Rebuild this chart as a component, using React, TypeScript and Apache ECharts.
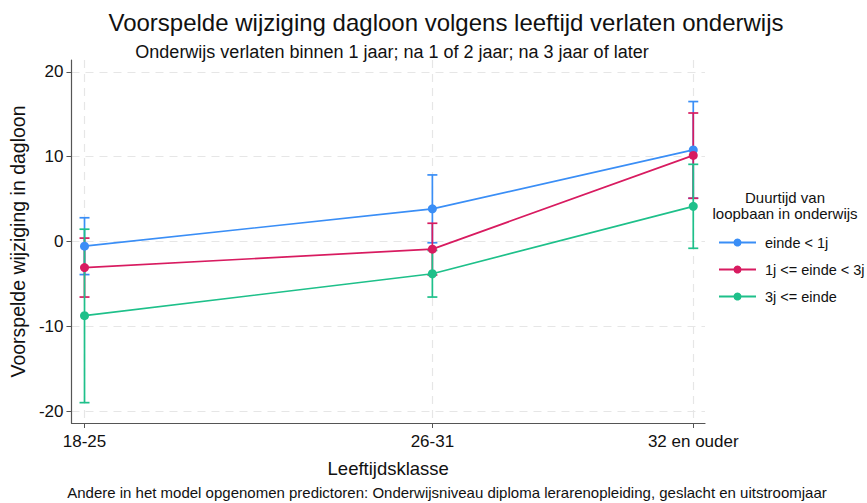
import React, { useEffect, useRef } from "react";
import * as echarts from "echarts";

const ageX = [18, 26, 32];
const ageLabels = ["18-25", "26-31", "32 en ouder"];
const yTicks = [-20, -10, 0, 10, 20];

const seriesNames = ["einde < 1j", "1j <= einde < 3j", "3j <= einde"];
const seriesColors = ["#3a8ef6", "#d81b60", "#1ec08a"];

const blueMean = [-0.55, 3.85, 10.8];
const blueLo = [-3.9, -0.15, 5.1];
const blueHi = [2.8, 7.85, 16.5];

const redMean = [-3.08, -0.9, 10.15];
const redLo = [-6.55, -3.95, 5.1];
const redHi = [0.4, 2.15, 15.15];

const greenMean = [-8.75, -3.8, 4.15];
const greenLo = [-19.0, -6.55, -0.8];
const greenHi = [1.45, -1.05, 9.1];

const means = [blueMean, redMean, greenMean];
const los = [blueLo, redLo, greenLo];
const his = [blueHi, redHi, greenHi];

const FONT = "'Liberation Sans', Arial, sans-serif";

export default function App() {
  const ref = useRef<HTMLDivElement>(null);
  useEffect(() => {
    if (!ref.current) return;
    const chart = echarts.init(ref.current, null, { renderer: "svg" });

    const errSeries = seriesNames.map((name, i) => ({
      type: "custom",
      name: name + " CI",
      z: 1,
      silent: true,
      encode: { x: 0, y: [1, 2] },
      data: ageX.map((x, k) => [x, los[i][k], his[i][k]]),
      renderItem: (params: any, api: any) => {
        const x = api.value(0);
        const top = api.coord([x, api.value(2)]);
        const bot = api.coord([x, api.value(1)]);
        const w = 5;
        const st = { stroke: seriesColors[i], lineWidth: 1.7 };
        return {
          type: "group",
          children: [
            { type: "line", shape: { x1: top[0], y1: top[1], x2: bot[0], y2: bot[1] }, style: st },
            { type: "line", shape: { x1: top[0] - w, y1: top[1], x2: top[0] + w, y2: top[1] }, style: st },
            { type: "line", shape: { x1: bot[0] - w, y1: bot[1], x2: bot[0] + w, y2: bot[1] }, style: st },
          ],
        };
      },
    }));

    const lineSeries = seriesNames.map((name, i) => ({
      type: "line",
      name,
      z: 3,
      data: ageX.map((x, k) => [x, means[i][k]]),
      symbol: "circle",
      symbolSize: 9,
      itemStyle: { color: seriesColors[i] },
      lineStyle: { color: seriesColors[i], width: 1.7 },
    }));

    chart.setOption({
      animation: false,
      textStyle: { fontFamily: FONT },
      title: [
        {
          text: "Voorspelde wijziging dagloon volgens leeftijd verlaten onderwijs",
          left: 441,
          top: 5,
          textAlign: "center",
          textStyle: { fontFamily: FONT, fontSize: 24, fontWeight: "normal", color: "#111" },
        },
        {
          text: "Onderwijs verlaten binnen 1 jaar; na 1 of 2 jaar; na 3 jaar of later",
          left: 387,
          top: 38,
          textAlign: "center",
          textStyle: { fontFamily: FONT, fontSize: 18, fontWeight: "normal", color: "#111" },
        },
      ],
      grid: { left: 66, right: 162, top: 60, bottom: 80, containLabel: false },
      xAxis: {
        type: "value",
        min: 17.7,
        max: 32.27,
        name: "Leeftijdsklasse",
        nameLocation: "middle",
        nameGap: 36,
        nameTextStyle: { fontFamily: FONT, fontSize: 18.5, color: "#111" },
        axisLine: { show: true, onZero: false, lineStyle: { color: "#555", width: 1.2 } },
        axisTick: { show: true, length: 5, customValues: ageX, lineStyle: { color: "#555" } },
        axisLabel: {
          customValues: ageX,
          margin: 10,
          fontFamily: FONT,
          fontSize: 17,
          color: "#111",
          formatter: (v: number) => ageLabels[ageX.indexOf(v)] ?? "",
        },
        splitLine: { show: true, lineStyle: { color: "#e6e6e6", type: [8, 6], width: 1.2 } },
      },
      yAxis: {
        type: "value",
        min: -21.4,
        max: 21.4,
        name: "Voorspelde wijziging in dagloon",
        nameLocation: "middle",
        nameGap: 36,
        nameTextStyle: { fontFamily: FONT, fontSize: 19.5, color: "#111" },
        axisLine: { show: true, onZero: false, lineStyle: { color: "#555", width: 1.2 } },
        axisTick: { show: true, length: 5, customValues: yTicks, lineStyle: { color: "#555" } },
        axisLabel: { customValues: yTicks, margin: 8, fontFamily: FONT, fontSize: 17, color: "#111" },
        splitLine: { show: true, lineStyle: { color: "#e6e6e6", type: [8, 6], width: 1.2 } },
      },
      legend: {
        data: seriesNames,
        orient: "vertical",
        left: 718,
        top: 235,
        itemWidth: 37,
        itemHeight: 10,
        itemGap: 12,
        padding: 0,
        textStyle: { fontFamily: FONT, fontSize: 14.5, color: "#111", padding: [0, 0, 0, 4] },
      },
      graphic: [
        {
          type: "text",
          x: 785,
          y: 189,
          style: {
            text: "Duurtijd van\nloopbaan in onderwijs",
            align: "center",
            verticalAlign: "top",
            font: `15px ${FONT}`,
            fill: "#111",
            lineHeight: 16,
          },
        },
        {
          type: "text",
          x: 447,
          y: 492,
          style: {
            text: "Andere in het model opgenomen predictoren: Onderwijsniveau diploma lerarenopleiding, geslacht en uitstroomjaar",
            align: "center",
            verticalAlign: "middle",
            font: `15px ${FONT}`,
            fill: "#111",
          },
        },
      ],
      series: [...errSeries, ...lineSeries],
    });
    return () => chart.dispose();
  }, []);
  return (
    <div
      ref={ref}
      style={{ position: "absolute", left: 0, top: 0, width: 867, height: 503 }}
    />
  );
}
